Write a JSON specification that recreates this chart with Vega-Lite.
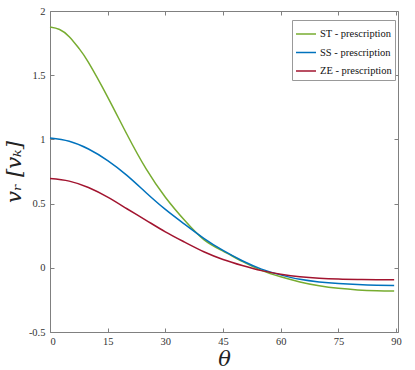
{
  "$schema": "https://vega.github.io/schema/vega-lite/v6.json",
  "width": 348,
  "height": 321,
  "autosize": {"type": "none"},
  "padding": {"left": 50, "top": 11, "right": 17, "bottom": 38},
  "background": "white",
  "config": {
    "view": {"stroke": null},
    "font": "Liberation Serif",
    "axis": {
      "grid": false,
      "domainColor": "#808080",
      "domainWidth": 1,
      "tickColor": "#808080",
      "tickSize": -4,
      "labelFont": "Liberation Serif",
      "labelFontSize": 10.5,
      "labelColor": "#333333",
      "titleFont": "DejaVu Serif",
      "titleColor": "#222222"
    }
  },
  "data": {
    "values": [
      {"theta": 0, "v": 1.875, "series": "ST - prescription"},
      {"theta": 2.5, "v": 1.856, "series": "ST - prescription"},
      {"theta": 5, "v": 1.8, "series": "ST - prescription"},
      {"theta": 7.5, "v": 1.71, "series": "ST - prescription"},
      {"theta": 10, "v": 1.6, "series": "ST - prescription"},
      {"theta": 15, "v": 1.33, "series": "ST - prescription"},
      {"theta": 20, "v": 1.04, "series": "ST - prescription"},
      {"theta": 25, "v": 0.77, "series": "ST - prescription"},
      {"theta": 30, "v": 0.55, "series": "ST - prescription"},
      {"theta": 35, "v": 0.37, "series": "ST - prescription"},
      {"theta": 40, "v": 0.22, "series": "ST - prescription"},
      {"theta": 45, "v": 0.13, "series": "ST - prescription"},
      {"theta": 50, "v": 0.05, "series": "ST - prescription"},
      {"theta": 55, "v": -0.02, "series": "ST - prescription"},
      {"theta": 60, "v": -0.07, "series": "ST - prescription"},
      {"theta": 65, "v": -0.11, "series": "ST - prescription"},
      {"theta": 70, "v": -0.14, "series": "ST - prescription"},
      {"theta": 75, "v": -0.16, "series": "ST - prescription"},
      {"theta": 80, "v": -0.172, "series": "ST - prescription"},
      {"theta": 85, "v": -0.178, "series": "ST - prescription"},
      {"theta": 89.5, "v": -0.18, "series": "ST - prescription"},
      {"theta": 0, "v": 1.01, "series": "SS - prescription"},
      {"theta": 5, "v": 0.985, "series": "SS - prescription"},
      {"theta": 10, "v": 0.925, "series": "SS - prescription"},
      {"theta": 15, "v": 0.835, "series": "SS - prescription"},
      {"theta": 20, "v": 0.72, "series": "SS - prescription"},
      {"theta": 25, "v": 0.585, "series": "SS - prescription"},
      {"theta": 30, "v": 0.455, "series": "SS - prescription"},
      {"theta": 35, "v": 0.34, "series": "SS - prescription"},
      {"theta": 40, "v": 0.23, "series": "SS - prescription"},
      {"theta": 45, "v": 0.135, "series": "SS - prescription"},
      {"theta": 50, "v": 0.055, "series": "SS - prescription"},
      {"theta": 55, "v": -0.01, "series": "SS - prescription"},
      {"theta": 60, "v": -0.055, "series": "SS - prescription"},
      {"theta": 65, "v": -0.09, "series": "SS - prescription"},
      {"theta": 70, "v": -0.11, "series": "SS - prescription"},
      {"theta": 75, "v": -0.122, "series": "SS - prescription"},
      {"theta": 80, "v": -0.13, "series": "SS - prescription"},
      {"theta": 85, "v": -0.135, "series": "SS - prescription"},
      {"theta": 89.5, "v": -0.137, "series": "SS - prescription"},
      {"theta": 0, "v": 0.695, "series": "ZE - prescription"},
      {"theta": 5, "v": 0.675, "series": "ZE - prescription"},
      {"theta": 10, "v": 0.625, "series": "ZE - prescription"},
      {"theta": 15, "v": 0.55, "series": "ZE - prescription"},
      {"theta": 20, "v": 0.46, "series": "ZE - prescription"},
      {"theta": 25, "v": 0.37, "series": "ZE - prescription"},
      {"theta": 30, "v": 0.28, "series": "ZE - prescription"},
      {"theta": 35, "v": 0.2, "series": "ZE - prescription"},
      {"theta": 40, "v": 0.125, "series": "ZE - prescription"},
      {"theta": 45, "v": 0.065, "series": "ZE - prescription"},
      {"theta": 50, "v": 0.018, "series": "ZE - prescription"},
      {"theta": 55, "v": -0.022, "series": "ZE - prescription"},
      {"theta": 60, "v": -0.05, "series": "ZE - prescription"},
      {"theta": 65, "v": -0.07, "series": "ZE - prescription"},
      {"theta": 70, "v": -0.082, "series": "ZE - prescription"},
      {"theta": 75, "v": -0.088, "series": "ZE - prescription"},
      {"theta": 80, "v": -0.091, "series": "ZE - prescription"},
      {"theta": 85, "v": -0.093, "series": "ZE - prescription"},
      {"theta": 89.5, "v": -0.093, "series": "ZE - prescription"}
    ]
  },
  "layer": [
    {
      "mark": {"type": "line", "strokeWidth": 1.5, "interpolate": "natural"},
      "encoding": {
        "x": {
          "field": "theta", "type": "quantitative",
          "scale": {"domain": [0, 90.5], "nice": false},
          "axis": {"orient": "bottom", "values": [0, 15, 30, 45, 60, 75, 90], "title": "θ", "titleFontSize": 21, "titleFontStyle": "italic", "titleFontWeight": "normal", "titlePadding": 2, "labelPadding": 8}
        },
        "y": {
          "field": "v", "type": "quantitative",
          "scale": {"domain": [-0.5, 2], "nice": false},
          "axis": {"orient": "left", "values": [-0.5, 0, 0.5, 1, 1.5, 2], "labelExpr": "toString(datum.value)", "title": "vᵣ [vₖ]", "titleFontSize": 21, "titleFontStyle": "italic", "titleFontWeight": "normal", "titlePadding": 4, "labelPadding": 9}
        },
        "color": {
          "field": "series", "type": "nominal",
          "scale": {"domain": ["ST - prescription", "SS - prescription", "ZE - prescription"], "range": ["#77AC30", "#0072BD", "#A2142F"]},
          "legend": {
            "title": null, "orient": "none", "legendX": 242, "legendY": 9,
            "symbolType": "stroke", "symbolSize": 400, "symbolStrokeWidth": 1.5,
            "labelFont": "Liberation Serif", "labelFontSize": 10.5, "labelColor": "#111111", "labelOffset": 3,
            "strokeColor": "#999999", "fillColor": "white", "padding": 3, "rowPadding": 1.5
          }
        }
      }
    },
    {
      "mark": {"type": "line", "opacity": 0},
      "encoding": {
        "x": {"field": "theta", "type": "quantitative", "axis": {"orient": "top", "values": [0, 15, 30, 45, 60, 75, 90], "labels": false, "title": null}},
        "y": {"field": "v", "type": "quantitative", "axis": {"orient": "right", "values": [-0.5, 0, 0.5, 1, 1.5, 2], "labels": false, "title": null}}
      }
    }
  ],
  "resolve": {"axis": {"x": "independent", "y": "independent"}}
}
